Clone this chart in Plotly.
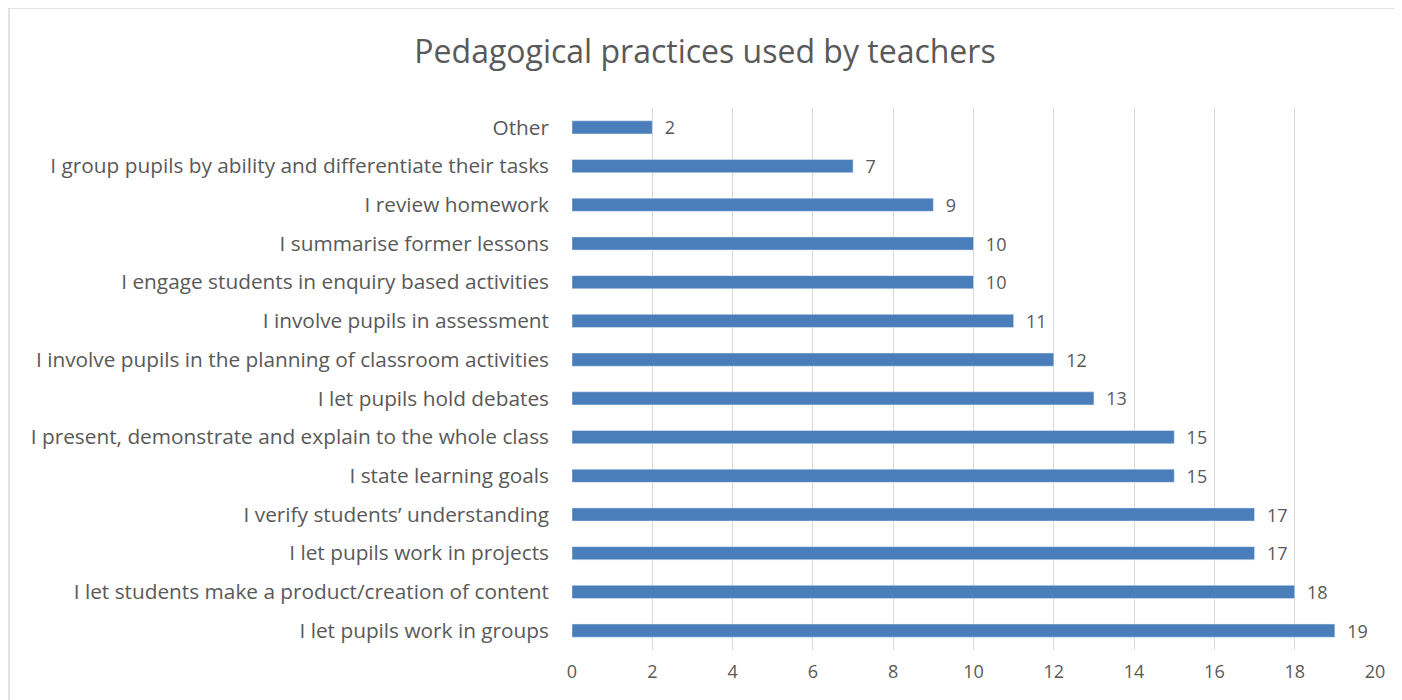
import plotly.graph_objects as go

# categories listed top to bottom as in the chart
practices = [
    "Other",
    "I group pupils by ability and differentiate their tasks",
    "I review homework",
    "I summarise former lessons",
    "I engage students in enquiry based activities",
    "I involve pupils in assessment",
    "I involve pupils in the planning of classroom activities",
    "I let pupils hold debates",
    "I present, demonstrate and explain to the whole class",
    "I state learning goals",
    "I verify students’ understanding",
    "I let pupils work in projects",
    "I let students make a product/creation of content",
    "I let pupils work in groups",
]
counts = [2, 7, 9, 10, 10, 11, 12, 13, 15, 15, 17, 17, 18, 19]
x_ticks = [0, 2, 4, 6, 8, 10, 12, 14, 16, 18, 20]

# page body has an 8px margin, so the figure is sized to fit the window
W, H = 1394, 692
L, R, T, B = 564, 27, 100, 50
grey_text = "#595959"
font_family = "'Open Sans', sans-serif"

fig = go.Figure()
fig.add_trace(go.Bar(
    x=counts,
    y=practices,
    orientation="h",
    width=0.34,
    marker=dict(color="#4A7EBB"),
    text=counts,
    texttemplate="\u00a0\u00a0%{text}",
    textposition="outside",
    constraintext="none",
    cliponaxis=False,
    textfont=dict(size=18, color=grey_text, family=font_family),
))

# light border around chart area (only top/left visible in the picture)
pw, ph = W - L - R, H - T - B
fig.add_shape(
    type="rect", xref="paper", yref="paper",
    x0=(1 - L) / pw, x1=(W + 10 - L) / pw,
    y0=-(B + 10) / ph, y1=1 + T / ph,
    line=dict(color="#D9D9D9", width=1.5),
    fillcolor="rgba(0,0,0,0)", layer="below",
)

fig.update_layout(
    width=W, height=H,
    title=dict(text="Pedagogical practices used by teachers",
               x=0.5, xref="container", xanchor="center",
               y=1 - 44 / H, yanchor="middle",
               font=dict(size=32, color=grey_text, family=font_family)),
    margin=dict(l=L, r=R, t=T, b=B),
    paper_bgcolor="white", plot_bgcolor="white",
    showlegend=False,
    font=dict(family=font_family, color=grey_text, size=18),
    xaxis=dict(range=[0, 20], tickvals=x_ticks, showgrid=True,
               gridcolor="#D9D9D9", gridwidth=1, zeroline=False,
               showline=False, ticks="", ticklabelstandoff=9,
               tickfont=dict(size=18, color=grey_text)),
    yaxis=dict(categoryorder="array", categoryarray=practices[::-1],
               showgrid=False, zeroline=False, showline=False, ticks="",
               ticklabelstandoff=22,
               tickfont=dict(size=20.8, color=grey_text)),
)

fig.write_html("out.html")
